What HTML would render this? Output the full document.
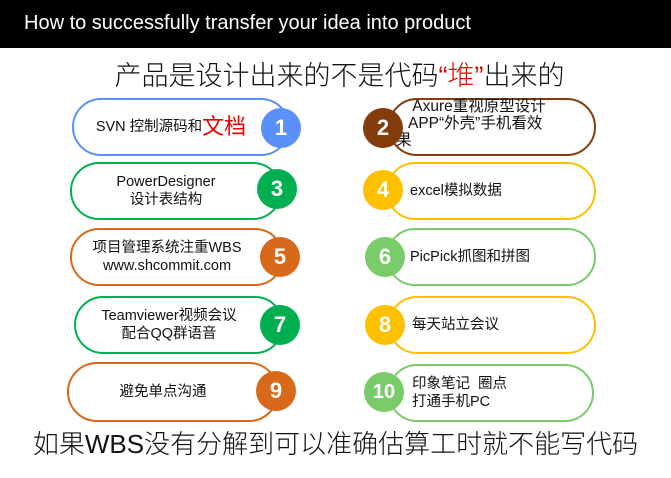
<!DOCTYPE html>
<html><head><meta charset="utf-8"><style>
body{margin:0;width:671px;height:478px;background:#fff;position:relative;overflow:hidden;font-family:"Liberation Sans","Noto Sans CJK SC",sans-serif;}
.bar{position:absolute;left:0;top:0;width:671px;height:48px;background:#000;color:#fff;font-size:20px;line-height:20px;}
.bar span{position:absolute;left:24px;top:13px;}
.sub{position:absolute;left:4px;width:671px;text-align:center;top:60px;font-size:27px;line-height:32px;color:#111;font-weight:300;}
.bot{position:absolute;left:0;width:671px;text-align:center;top:428px;font-size:26px;line-height:32px;color:#111;font-weight:300;}
.p{position:absolute;height:54px;border:2px solid;border-radius:30px;background:#fff;font-size:14.5px;color:#111;display:flex;align-items:center;line-height:18px;box-sizing:content-box;}
.l{justify-content:center;text-align:center;padding-right:20px;box-sizing:border-box;}
.r{padding-left:22px;box-sizing:border-box;}
.c{position:absolute;width:40px;height:40px;border-radius:50%;color:#fff;font-weight:bold;font-size:22px;text-align:center;line-height:40px;}
</style></head><body>
<div class="bar"><span>How to successfully transfer your idea into product</span></div>
<div class="sub">产品是设计出来的不是代码<span style="color:#e00">“堆”</span>出来的</div>

<div class="p l" style="left:72px;top:98px;width:218px;height:58px;border-color:#5b8ff9">SVN 控制源码和<span style="color:#e00;font-size:22px">文档</span></div>
<div class="c" style="left:261px;top:108px;background:#5b8ff9">1</div>
<div class="p l" style="left:70px;top:162px;width:212px;height:58px;border-color:#00b050">PowerDesigner<br>设计表结构</div>
<div class="c" style="left:257px;top:169px;background:#00b050">3</div>
<div class="p l" style="left:70px;top:228px;width:214px;height:58px;border-color:#d9691a">项目管理系统注重WBS<br>www.shcommit.com</div>
<div class="c" style="left:260px;top:237px;background:#d9691a">5</div>
<div class="p l" style="left:74px;top:296px;width:210px;height:58px;border-color:#00b050">Teamviewer视频会议<br>配合QQ群语音</div>
<div class="c" style="left:260px;top:305px;background:#00b050">7</div>
<div class="p l" style="left:67px;top:362px;width:212px;height:60px;border-color:#d9691a">避免单点沟通</div>
<div class="c" style="left:256px;top:371px;background:#d9691a">9</div>

<div class="p r" style="left:388px;top:98px;width:208px;height:58px;border-color:#843c0c;align-items:flex-start;padding-left:18px;font-size:15.5px;line-height:17px"><div style="margin-top:-2px">&nbsp;Axure重视原型设计<br>APP“外壳”手机看效<br><span style="margin-left:-12px">果</span></div></div>
<div class="c" style="left:363px;top:108px;background:#843c0c">2</div>
<div class="p r" style="left:386px;top:162px;width:210px;height:58px;border-color:#ffc000">excel模拟数据</div>
<div class="c" style="left:363px;top:170px;background:#ffc000">4</div>
<div class="p r" style="left:386px;top:228px;width:210px;height:58px;border-color:#7acb6a">PicPick抓图和拼图</div>
<div class="c" style="left:365px;top:237px;background:#7acb6a">6</div>
<div class="p r" style="left:388px;top:296px;width:208px;height:58px;border-color:#ffc000">每天站立会议</div>
<div class="c" style="left:365px;top:305px;background:#ffc000">8</div>
<div class="p r" style="left:388px;top:364px;width:206px;height:58px;border-color:#7acb6a">印象笔记&nbsp; 圈点<br>打通手机PC</div>
<div class="c" style="left:364px;top:372px;background:#7acb6a;font-size:20px">10</div>

<div class="bot">如果WBS没有分解到可以准确估算工时就不能写代码</div>
</body></html>
